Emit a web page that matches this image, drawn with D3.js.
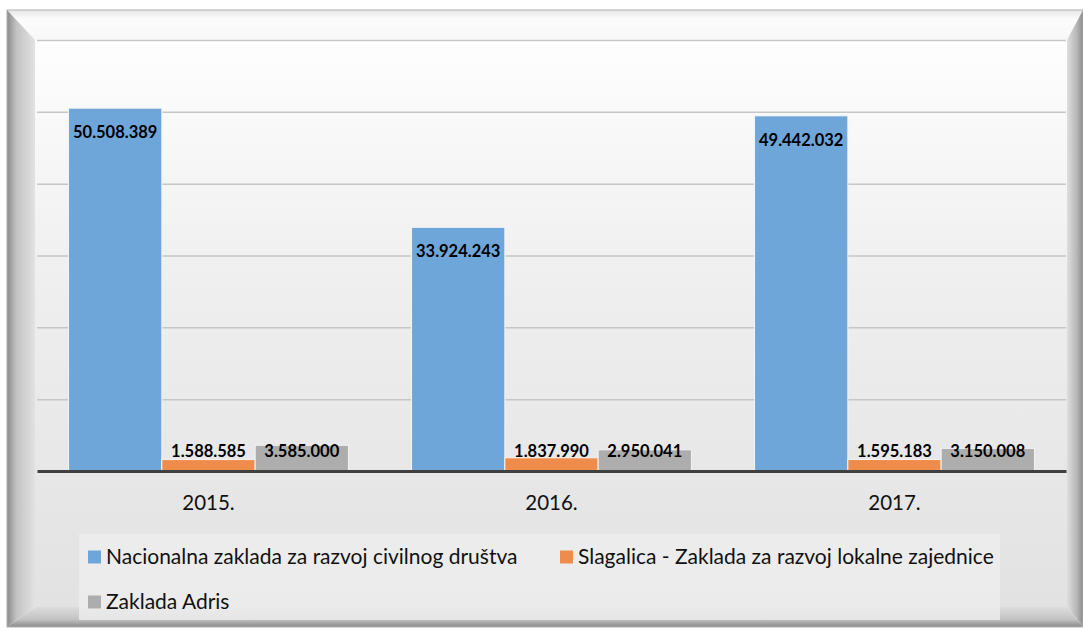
<!DOCTYPE html>
<html>
<head>
<meta charset="utf-8">
<script src="https://cdn.jsdelivr.net/npm/d3@7"></script>
<style>
  body { margin: 0; background: #fff; }
  svg { display: block; font-family: Lato, "Open Sans", sans-serif; }
</style>
</head>
<body>
<div id="chart"></div>
<script>
// values
var years = ['2015.', '2016.', '2017.'];
var seriesNames = ['Nacionalna zaklada za razvoj civilnog društva',
                   'Slagalica - Zaklada za razvoj lokalne zajednice',
                   'Zaklada Adris'];
var nacionalna = [50508389, 33924243, 49442032];
var slagalica = [1588585, 1837990, 1595183];
var adris = [3585000, 2950041, 3150008];
var yTicks = [0, 10e6, 20e6, 30e6, 40e6, 50e6, 60e6];
var colors = ['#6fa6d9', '#ef8c4b', '#adadad'];

var W = 1083, H = 628;
var svg = d3.select('#chart').append('svg').attr('width', W).attr('height', H);
var defs = svg.append('defs');

function grad(id, x2, y2, stops) {
    var g = defs.append('linearGradient').attr('id', id)
        .attr('x1', 0).attr('y1', 0).attr('x2', x2).attr('y2', y2);
    stops.forEach(function(s){ g.append('stop').attr('offset', s[0]).attr('stop-color', s[1]); });
}
grad('bgGrad', 0, 1, [[0, '#fefefe'], [0.45, '#eeeeee'], [1, '#e2e2e2']]);
grad('topBev', 0, 1, [[0, '#e6e6e6'], [0.3, '#fcfcfc'], [1, '#f8f8f8']]);
grad('leftBev', 1, 0, [[0, '#8a8a8a'], [0.35, '#c4c4c4'], [1, '#e2e2e2']]);
grad('rightBev', 1, 0, [[0, '#dedede'], [0.6, '#b8b8b8'], [1, '#8c8c8c']]);
grad('botBev', 0, 1, [[0, '#dcdcdc'], [0.6, '#c4c4c4'], [1, '#8a8a8a']]);

// frame with bevel
var o = {l: 7, t: 10, r: 1083, b: 627};
var i = {l: 35, t: 40, r: 1067, b: 607};
svg.append('rect').attr('x', i.l).attr('y', i.t).attr('width', i.r - i.l).attr('height', i.b - i.t)
    .attr('fill', 'url(#bgGrad)');
var bevels = [
    {fill: 'url(#topBev)', pts: [[o.l,o.t],[o.r,o.t],[i.r,i.t],[i.l,i.t]]},
    {fill: 'url(#leftBev)', pts: [[o.l,o.t],[i.l,i.t],[i.l,i.b],[o.l,o.b]]},
    {fill: 'url(#rightBev)', pts: [[o.r,o.t],[o.r,o.b],[i.r,i.b],[i.r,i.t]]},
    {fill: 'url(#botBev)', pts: [[o.l,o.b],[i.l,i.b],[i.r,i.b],[o.r,o.b]]}
];
svg.selectAll('polygon.bevel').data(bevels).enter().append('polygon')
    .attr('class', 'bevel')
    .attr('points', function(d){ return d.pts.join(' '); })
    .attr('fill', function(d){ return d.fill; });
svg.append('rect').attr('x', o.l).attr('y', o.t).attr('width', o.r - o.l).attr('height', o.b - o.t)
    .attr('fill', 'none').attr('stroke', '#b0b0b0').attr('stroke-width', 1);

// scales
var plot = {l: 37, r: 1066, top: 40, base: 471};
var x0 = d3.scaleBand().domain(years).range([plot.l, plot.r]).paddingInner(0.184).paddingOuter(0.092);
var x1 = d3.scaleBand().domain(d3.range(3)).range([0, x0.bandwidth()]);
var y = d3.scaleLinear().domain([0, 60e6]).range([plot.base, plot.top]);

var hr = d3.formatLocale({decimal: ',', thousands: '.', grouping: [3], currency: ['', '']});
var fmt = hr.format(',');

// gridlines
var yAxis = d3.axisLeft(y).tickValues(yTicks.slice(1)).tickSize(-(plot.r - plot.l)).tickFormat('');
var gy = svg.append('g').attr('transform', 'translate(' + plot.l + ',0)').call(yAxis);
gy.select('.domain').remove();
gy.selectAll('line').attr('stroke', '#c6c6c6').attr('stroke-width', 1.5);

// bars
var rows = years.map(function(yr, k){
    return {year: yr, values: [nacionalna[k], slagalica[k], adris[k]]};
});
var groups = svg.selectAll('g.year').data(rows).enter().append('g')
    .attr('class', 'year')
    .attr('transform', function(d){ return 'translate(' + x0(d.year) + ',0)'; });

groups.selectAll('rect').data(function(d){ return d.values; }).enter().append('rect')
    .attr('x', function(d, j){ return x1(j); })
    .attr('y', function(d){ return y(d); })
    .attr('width', x1.bandwidth())
    .attr('height', function(d){ return y(0) - y(d); })
    .attr('fill', function(d, j){ return colors[j]; })
    .attr('stroke', '#f4f4f4').attr('stroke-width', 1);

groups.selectAll('text').data(function(d){ return d.values; }).enter().append('text')
    .attr('x', function(d, j){ return x1(j) + x1.bandwidth() / 2; })
    .attr('y', function(d){ return Math.min(y(d) + 24, y(0) - 20); })
    .attr('dy', '0.35em')
    .attr('text-anchor', 'middle')
    .attr('font-weight', 'bold')
    .attr('font-size', 16.5)
    .attr('fill', '#000')
    .text(function(d){ return fmt(d); });

// x axis
var xAxis = d3.axisBottom(x0).tickSize(0).tickPadding(24);
var gx = svg.append('g').attr('transform', 'translate(0,' + plot.base + ')').call(xAxis);
gx.select('.domain').attr('stroke', '#404040').attr('stroke-width', 3);
gx.selectAll('text').attr('font-size', 20.5).attr('fill', '#111').attr('font-family', 'Lato, sans-serif');

// legend
svg.append('rect').attr('x', 79).attr('y', 534).attr('width', 921).attr('height', 86)
    .attr('fill', '#ededed').attr('opacity', 0.8);
var legendPos = [[88, 557], [560, 557], [88, 602]];
var lg = svg.selectAll('g.legend').data(seriesNames).enter().append('g')
    .attr('class', 'legend')
    .attr('transform', function(d, j){ return 'translate(' + legendPos[j][0] + ',' + legendPos[j][1] + ')'; });
lg.append('rect').attr('x', 0).attr('y', -6.5).attr('width', 13).attr('height', 13)
    .attr('fill', function(d, j){ return colors[j]; });
lg.append('text').attr('x', 18).attr('dy', '0.35em')
    .attr('font-size', 21).attr('fill', '#111')
    .text(function(d){ return d; });
</script>
</body>
</html>
